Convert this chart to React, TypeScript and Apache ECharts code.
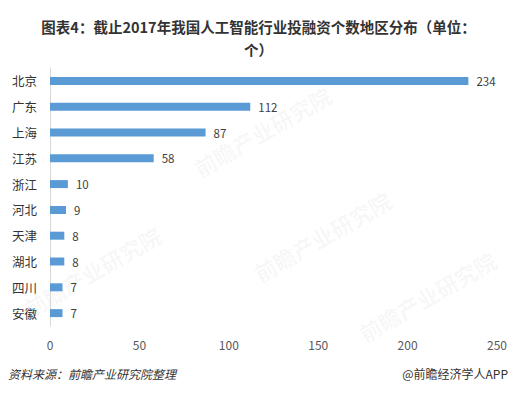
import React, { useEffect, useRef } from "react";
import * as echarts from "echarts";

const categories = ["北京", "广东", "上海", "江苏", "浙江", "河北", "天津", "湖北", "四川", "安徽"];
const values = [234, 112, 87, 58, 10, 9, 8, 8, 7, 7];
const titleText = "图表4：截止2017年我国人工智能行业投融资个数地区分布（单位：\n个）";
const sourceText = "资料来源：前瞻产业研究院整理";
const creditText = "@前瞻经济学人APP";
const watermark = "前瞻产业研究院";

const FONT = "'Noto Sans CJK SC', 'Microsoft YaHei', sans-serif";

export default function App() {
  const ref = useRef<HTMLDivElement>(null);
  useEffect(() => {
    if (!ref.current) return;
    const chart = echarts.init(ref.current, undefined, { renderer: "svg" });
    const wm = (x: number, y: number) => ({
      type: "text",
      x,
      y,
      rotation: Math.PI / 6,
      z: -1,
      silent: true,
      style: { text: watermark, font: `bold 22px ${FONT}`, fill: "rgba(0,0,0,0.045)" },
    });
    chart.setOption({
      animation: false,
      backgroundColor: "#ffffff",
      textStyle: { fontFamily: FONT },
      title: {
        text: titleText,
        left: "center",
        top: 10,
        textStyle: { fontSize: 14.5, fontWeight: "bold", color: "#333", lineHeight: 23, fontFamily: FONT },
      },
      grid: { left: 50, right: 20, top: 68, bottom: 67, containLabel: false },
      xAxis: {
        type: "value",
        min: 0,
        max: 250,
        interval: 50,
        axisLine: { show: false },
        axisTick: { show: false },
        splitLine: { show: false },
        axisLabel: { color: "#595959", fontSize: 12, margin: 12, fontFamily: FONT },
      },
      yAxis: {
        type: "category",
        inverse: true,
        data: categories,
        axisLine: { show: true, lineStyle: { color: "#d9d9d9" } },
        axisTick: { show: false },
        axisLabel: { color: "#333", fontSize: 12.5, margin: 13, fontFamily: FONT },
      },
      series: [
        {
          type: "bar",
          data: values,
          barWidth: 8,
          itemStyle: { color: "#5b9bd5" },
          label: { show: true, position: "right", distance: 8, color: "#404040", fontSize: 11.5, fontFamily: FONT },
        },
      ],
      graphic: [
        wm(20, 300),
        wm(190, 160),
        wm(250, 265),
        wm(355, 325),
        {
          type: "text",
          left: 8,
          top: 367,
          style: { text: sourceText, font: `italic 12px ${FONT}`, fill: "#333" },
        },
        {
          type: "text",
          right: 9,
          top: 367,
          style: { text: creditText, font: `12px ${FONT}`, fill: "#333" },
        },
      ],
    });
    return () => chart.dispose();
  }, []);
  return <div ref={ref} style={{ width: 517, height: 393, position: "absolute", left: 0, top: 0 }} />;
}
